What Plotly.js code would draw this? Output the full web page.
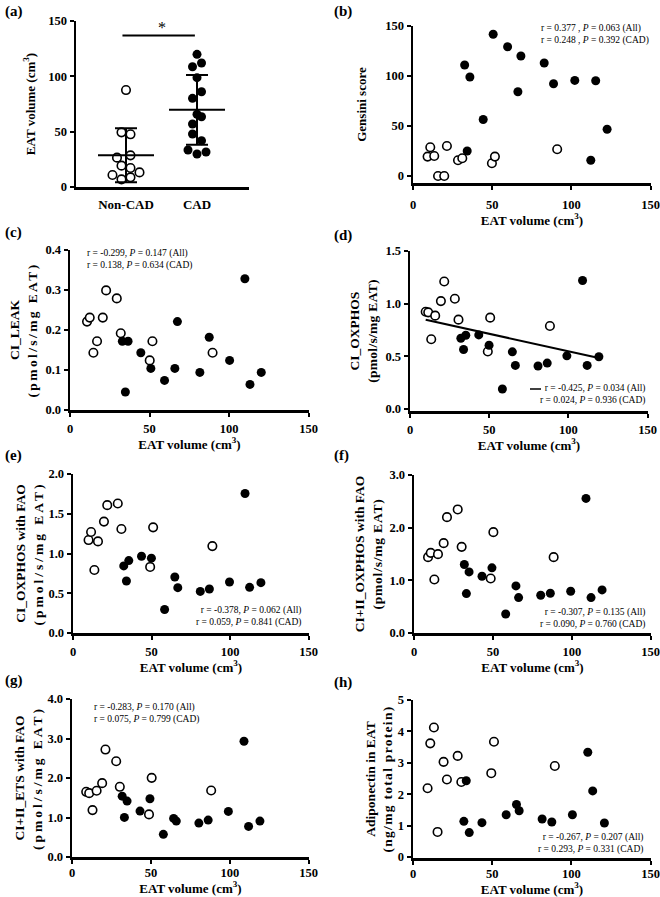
<!DOCTYPE html>
<html><head><meta charset="utf-8">
<script src="https://cdn.plot.ly/plotly-3.0.1.min.js"></script>
<style>html,body{margin:0;padding:0;background:#fff}#chart{width:660px;height:897px}</style>
</head><body><div id="chart"></div>
<script>
// ---------------- DATA ----------------
const groupNames = ['Non-CAD', 'CAD'];
const nonCadEAT = [87.6, 49.4, 47.6, 26.5, 28.6, 19.3, 17.2, 10.8, 13.2, 6.9, 8.7];
const cadEAT = [119.9, 108.7, 112.0, 98.8, 86.1, 80.1, 65.7, 63.5, 56.9, 47.9, 41.9, 33.4, 29.8, 31.6];
const nonCadSlot = [0, -1, 1, -2, 1, -1, 1, -3, 3, -1, 1];
const cadSlot = [0, -1, 1, 0, 1, -1, 0, 1, -1, -1, 1, -2, 0, 2];

const bOpenX = [9.2, 10.9, 13.4, 15.8, 19.7, 21.4, 28.4, 31.1, 49.8, 51.7, 91.0];
const bOpenY = [19.4, 28.7, 20.0, 0, 0, 30.0, 15.7, 17.7, 12.7, 19.4, 26.7];
const bFillX = [32.6, 35.9, 34.2, 44.3, 50.6, 59.7, 68.1, 66.2, 82.8, 88.7, 102.1, 115.3, 112.2, 122.5];
const bFillY = [111, 99, 25, 56.5, 141.7, 129.3, 120, 84.2, 113, 92.2, 95.6, 95.2, 15.7, 46.8];

const cOpenX = [10.7, 12.4, 14.7, 17.0, 20.6, 22.7, 29.4, 31.9, 50.1, 51.8, 89.6];
const cOpenY = [0.221, 0.231, 0.143, 0.172, 0.231, 0.299, 0.279, 0.192, 0.124, 0.172, 0.143];
const cFillX = [32.9, 36.5, 34.8, 44.5, 50.8, 59.4, 65.9, 67.5, 81.6, 87.5, 100.3, 109.9, 113.1, 120.2];
const cFillY = [0.172, 0.172, 0.045, 0.143, 0.104, 0.074, 0.104, 0.221, 0.094, 0.182, 0.124, 0.328, 0.064, 0.094];

const dOpenX = [9.9, 11.5, 13.4, 15.9, 19.5, 21.6, 28.3, 30.6, 49.1, 50.6, 88.3];
const dOpenY = [0.923, 0.917, 0.662, 0.886, 1.024, 1.21, 1.046, 0.848, 0.545, 0.867, 0.788];
const dFillX = [32.1, 33.8, 35.2, 43.4, 49.9, 64.6, 66.5, 58.3, 80.8, 86.6, 99.0, 108.9, 111.8, 119.2];
const dFillY = [0.671, 0.564, 0.7, 0.703, 0.605, 0.542, 0.413, 0.189, 0.407, 0.435, 0.504, 1.22, 0.413, 0.495];

const eOpenX = [9.9, 11.5, 13.6, 15.9, 19.7, 21.8, 28.5, 30.8, 49.1, 51.0, 88.7];
const eOpenY = [1.169, 1.27, 0.793, 1.152, 1.401, 1.608, 1.629, 1.308, 0.831, 1.329, 1.093];
const eFillX = [32.3, 34.0, 35.5, 43.6, 49.9, 58.3, 64.8, 66.7, 81.0, 86.8, 99.6, 109.5, 112.4, 119.6];
const eFillY = [0.844, 0.654, 0.911, 0.966, 0.941, 0.295, 0.705, 0.57, 0.523, 0.553, 0.641, 1.755, 0.574, 0.633];

const fOpenX = [8.9, 10.6, 12.9, 15.2, 18.8, 20.9, 27.7, 30.2, 48.6, 50.3, 88.5];
const fOpenY = [1.44, 1.522, 1.015, 1.497, 1.706, 2.2, 2.346, 1.636, 1.034, 1.915, 1.44];
const fFillX = [31.9, 33.2, 34.9, 43.1, 49.4, 58.1, 64.6, 66.3, 80.3, 86.4, 99.3, 109.0, 112.2, 119.2];
const fFillY = [1.3, 0.748, 1.16, 1.078, 1.237, 0.361, 0.894, 0.672, 0.717, 0.755, 0.793, 2.555, 0.672, 0.818];

const gOpenX = [9.0, 10.9, 13.0, 15.6, 19.1, 21.2, 28.0, 30.3, 48.8, 50.5, 88.2];
const gOpenY = [1.65, 1.617, 1.187, 1.676, 1.87, 2.72, 2.425, 1.777, 1.078, 2.004, 1.684];
const gFillX = [31.8, 33.2, 34.9, 43.1, 49.4, 57.9, 64.4, 66.1, 80.4, 86.3, 99.1, 109.0, 111.9, 119.1];
const gFillY = [1.541, 1.002, 1.415, 1.162, 1.474, 0.573, 0.977, 0.909, 0.859, 0.935, 1.154, 2.93, 0.775, 0.909];

const hOpenX = [9.2, 10.9, 13.2, 15.5, 19.3, 21.4, 28.2, 30.5, 49.4, 51.1, 89.5];
const hOpenY = [2.19, 3.62, 4.126, 0.8, 3.03, 2.47, 3.22, 2.39, 2.67, 3.67, 2.9];
const hFillX = [33.6, 32.1, 35.5, 43.5, 58.8, 65.3, 67.0, 81.5, 87.6, 100.6, 110.3, 113.4, 120.8];
const hFillY = [2.43, 1.137, 0.779, 1.095, 1.347, 1.674, 1.474, 1.21, 1.116, 1.347, 3.337, 2.105, 1.084];

const xTickVals = [0, 50, 100, 150];
const yTitleLines = {
  b: ['Gensini score'],
  c: ['CI_LEAK', '(pmol/s/mg EAT)'],
  d: ['CI_OXPHOS', '(pmol/s/mg EAT)'],
  e: ['CI_OXPHOS with FAO', '(pmol/s/mg EAT)'],
  f: ['CI+II_OXPHOS with FAO', '(pmol/s/mg EAT)'],
  g: ['CI+II_ETS with FAO', '(pmol/s/mg EAT)'],
  h: ['Adiponectin in EAT', '(ng/mg total protein)']
};
const statText = {
  b: ['r = 0.377 , <i>P</i> = 0.063 (All)', 'r = 0.248 , <i>P</i> = 0.392 (CAD)'],
  c: ['r = -0.299, <i>P</i> = 0.147 (All)', 'r = 0.138, <i>P</i> = 0.634 (CAD)'],
  d: ['r = -0.425, <i>P</i> = 0.034 (All)', 'r = 0.024, <i>P</i> = 0.936 (CAD)'],
  e: ['r = -0.378, <i>P</i> = 0.062 (All)', 'r = 0.059, <i>P</i> = 0.841 (CAD)'],
  f: ['r = -0.307, <i>P</i> = 0.135 (All)', 'r = 0.090, <i>P</i> = 0.760 (CAD)'],
  g: ['r = -0.283, <i>P</i> = 0.170 (All)', 'r = 0.075, <i>P</i> = 0.799 (CAD)'],
  h: ['r = -0.267, <i>P</i> = 0.207 (All)', 'r = 0.293, <i>P</i> = 0.331 (CAD)']
};

// ---------------- LAYOUT HELPERS ----------------
const W = 660, H = 897;
const FF = 'Liberation Serif, Times New Roman, serif';
const px = x => x / W;
const py = y => 1 - y / H;

const tickFont = {family: FF, size: 12.5, color: '#000', weight: 'bold'};
const titleFont = {family: FF, size: 13, color: '#000', weight: 'bold'};
const yTitleFont = {family: FF, size: 13.5, color: '#000', weight: 'bold'};
const xTitle = 'EAT volume (cm<sup>3</sup>)';

function baseAxis(extra) {
  return Object.assign({
    showline: true, linewidth: 2.5, linecolor: '#000',
    ticks: 'outside', ticklen: 4, tickwidth: 2, tickcolor: '#000',
    showgrid: false, zeroline: false, fixedrange: true,
    ticklabeloverflow: 'allow',
    tickfont: tickFont
  }, extra);
}

// panel pixel boxes: [xLeft, xRight, yTop, yBottom]; ls = letter spacing of the 2nd title line
const panels = {
  b: {n: 2, box: [413, 651, 26, 183], yr: [-7, 150], yt: [0, 50, 100, 150], yf: 'd', ys: 16, xs: 1, xls: 4, ls: 0},
  c: {n: 3, box: [70, 309, 250, 410], yr: [0, 0.4], yt: [0, 0.1, 0.2, 0.3, 0.4], yf: '.1f', ys: 5, xs: 0, xls: 1, ls: 2.4},
  d: {n: 4, box: [410, 648, 251, 411], yr: [-0.02, 1.5], yt: [0, 0.5, 1.0, 1.5], yf: '.1f', ys: 5, xs: 0, xls: 1, ls: 0.3},
  e: {n: 5, box: [73, 309, 474, 633], yr: [0, 2.0], yt: [0, 0.5, 1.0, 1.5, 2.0], yf: '.1f', ys: 2, xs: 0, xls: 1, ls: 3},
  f: {n: 6, box: [414, 651, 475, 633], yr: [0, 3.0], yt: [0, 1, 2, 3], yf: '.1f', ys: 4, xs: 0, xls: 1, ls: 0.8},
  g: {n: 7, box: [72, 309, 699, 857], yr: [0, 4.0], yt: [0, 1, 2, 3, 4], yf: '.1f', ys: 2, xs: 3, xls: -2, ls: 3},
  h: {n: 8, box: [413, 651, 700, 858], yr: [-0.03, 5], yt: [0, 1, 2, 3, 4, 5], yf: 'd', ys: 2, xs: 3, xls: -2, ls: 1.3}
};

const layout = {
  width: W, height: H, margin: {l: 0, r: 0, t: 0, b: 0},
  paper_bgcolor: '#fff', plot_bgcolor: '#fff', showlegend: false,
  font: {family: FF, color: '#000'},
  annotations: [], shapes: []
};

// Panel (a)
layout.xaxis = baseAxis({
  domain: [px(76), px(249)], anchor: 'y', range: [-0.704, 1.732],
  tickvals: [0, 1], ticktext: groupNames, ticks: '', ticklabelstandoff: 4,
  tickfont: {family: FF, size: 13, color: '#000', weight: 'bold'}
});
layout.yaxis = baseAxis({
  domain: [py(187), py(21)], anchor: 'x', range: [0, 150], tickvals: [0, 50, 100, 150],
  title: {text: xTitle, font: titleFont, standoff: 10}
});

const traces = [];
const slotUnit = 0.0634;
traces.push({
  type: 'scatter', mode: 'markers', xaxis: 'x', yaxis: 'y',
  x: nonCadSlot.map(s => 0 + s * slotUnit), y: nonCadEAT,
  marker: {size: 8.5, color: '#fff', line: {color: '#000', width: 1.6}}
});
traces.push({
  type: 'scatter', mode: 'markers', xaxis: 'x', yaxis: 'y',
  x: cadSlot.map(s => 1 + s * slotUnit), y: cadEAT,
  marker: {size: 9, color: '#000'}
});
function mean(a) { return a.reduce((s, v) => s + v, 0) / a.length; }
function sd(a) { const m = mean(a); return Math.sqrt(a.reduce((s, v) => s + (v - m) * (v - m), 0) / (a.length - 1)); }
traces.push({
  type: 'scatter', mode: 'markers', xaxis: 'x', yaxis: 'y',
  x: [0, 1], y: [mean(nonCadEAT), mean(cadEAT)],
  marker: {symbol: 'line-ew-open', size: 40, color: '#000', line: {color: '#000', width: 2}},
  error_y: {type: 'data', array: [sd(nonCadEAT), sd(cadEAT)], visible: true, color: '#000', thickness: 2, width: 11}
});
layout.shapes.push({type: 'line', xref: 'x', yref: 'y', x0: -0.05, x1: 0.97, y0: 137, y1: 137, line: {color: '#000', width: 2}});
layout.annotations.push({xref: 'x', yref: 'y', x: 0.5, y: 144, text: '*', showarrow: false, font: {family: FF, size: 16, color: '#000'}});

// Scatter panels
const pdata = {
  b: [bOpenX, bOpenY, bFillX, bFillY], c: [cOpenX, cOpenY, cFillX, cFillY],
  d: [dOpenX, dOpenY, dFillX, dFillY], e: [eOpenX, eOpenY, eFillX, eFillY],
  f: [fOpenX, fOpenY, fFillX, fFillY], g: [gOpenX, gOpenY, gFillX, gFillY],
  h: [hOpenX, hOpenY, hFillX, hFillY]
};
Object.keys(panels).forEach(k => {
  const p = panels[k];
  const xa = 'xaxis' + p.n, ya = 'yaxis' + p.n, xr = 'x' + p.n, yr = 'y' + p.n;
  const lines = yTitleLines[k];
  let ttl = lines[0];
  if (lines.length > 1) {
    ttl += '<br>' + (p.ls ? '<span style="letter-spacing:' + p.ls + 'px">' + lines[1] + '</span>' : lines[1]);
  }
  layout[xa] = baseAxis({
    domain: [px(p.box[0]), px(p.box[1])], anchor: yr, range: [0, 150.2], tickvals: xTickVals,
    ticklabelstandoff: p.xls,
    title: {text: xTitle, font: titleFont, standoff: p.xs}
  });
  layout[ya] = baseAxis({
    domain: [py(p.box[3]), py(p.box[2])], anchor: xr, range: p.yr, tickvals: p.yt, tickformat: p.yf,
    title: {text: ttl, font: k === 'b' ? titleFont : yTitleFont, standoff: p.ys}
  });
  const [ox, oy, fx, fy] = pdata[k];
  traces.push({type: 'scatter', mode: 'markers', xaxis: xr, yaxis: yr, x: ox, y: oy,
    marker: {size: 8.5, color: '#fff', line: {color: '#000', width: 1.6}}});
  traces.push({type: 'scatter', mode: 'markers', xaxis: xr, yaxis: yr, x: fx, y: fy,
    marker: {size: 9, color: '#000'}});
});

// Regression line in (d) computed from all points
(function () {
  const X = dOpenX.concat(dFillX), Y = dOpenY.concat(dFillY);
  const mx = mean(X), my = mean(Y);
  let sxy = 0, sxx = 0;
  X.forEach((v, i) => { sxy += (v - mx) * (Y[i] - my); sxx += (v - mx) * (v - mx); });
  const b = sxy / sxx, a = my - b * mx;
  const x0 = Math.min(...X), x1 = Math.max(...X);
  traces.push({type: 'scatter', mode: 'lines', xaxis: 'x4', yaxis: 'y4',
    x: [x0, x1], y: [a + b * x0, a + b * x1], line: {color: '#000', width: 2}});
})();

// Panel letters
[['(a)', 3, 12], ['(b)', 332, 12], ['(c)', 3, 233], ['(d)', 332, 235],
 ['(e)', 3, 455], ['(f)', 332, 455], ['(g)', 3, 680], ['(h)', 332, 682]].forEach(l => {
  layout.annotations.push({xref: 'paper', yref: 'paper', x: px(l[1]), y: py(l[2]), xanchor: 'left', yanchor: 'middle',
    text: '<b>' + l[0] + '</b>', showarrow: false, font: {family: FF, size: 15, color: '#000'}});
});

// Stats text
const statPos = {
  b: [539, 34.5, 'left'], c: [85, 260, 'left'], d: [647, 394, 'right'], e: [303, 616, 'right'],
  f: [647, 618, 'right'], g: [92, 713, 'left'], h: [645, 843, 'right']
};
Object.keys(statPos).forEach(k => {
  const s = statPos[k];
  layout.annotations.push({xref: 'paper', yref: 'paper', x: px(s[0]), y: py(s[1]), xanchor: s[2], yanchor: 'middle',
    align: s[2], text: statText[k].join('<br>'), showarrow: false, font: {family: FF, size: 9.5, color: '#000'}});
});
// legend key line in (d)
layout.shapes.push({type: 'line', xref: 'paper', yref: 'paper', x0: px(530), x1: px(541), y0: py(389), y1: py(389), line: {color: '#000', width: 1.5}});

Plotly.newPlot('chart', traces, layout, {staticPlot: true});
</script></body></html>
